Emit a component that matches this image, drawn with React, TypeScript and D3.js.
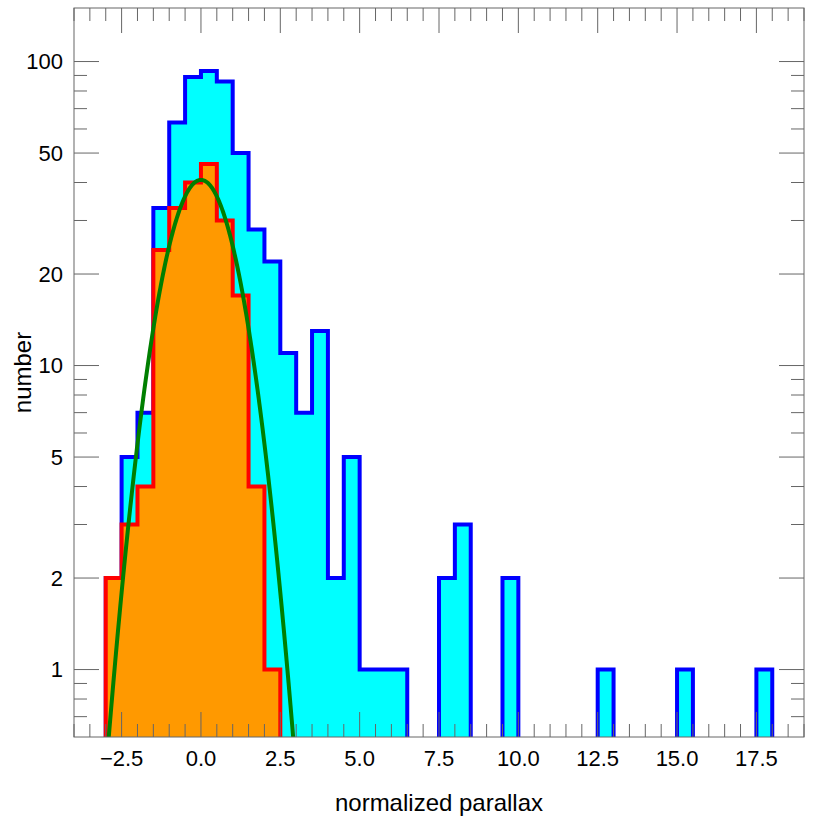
import React from "react";
import * as d3 from "d3";

// ---- data ----
const BIN_START = -3.0;
const BIN_WIDTH = 0.5;
// total sample (cyan / blue), bins from -3.0 in steps of 0.5
const blueCounts = [
  2, 5, 7, 33, 63, 89, 93, 86, 50, 28, 22, 11, 7, 13, 2, 5, 1, 1, 1, 0, 0, 2, 3, 0, 0, 2,
  0, 0, 0, 0, 0, 1, 0, 0, 0, 0, 1, 0, 0, 0, 0, 1,
];
// subset (orange / red), bins from -3.0 in steps of 0.5
const redCounts = [2, 3, 4, 24, 33, 40, 46, 30, 17, 4, 1];
// gaussian fit (green)
const fitAmplitude = 40.8;
const fitMean = 0.0;
const fitSigma = 1.0;

const xTickValues = [-2.5, 0, 2.5, 5, 7.5, 10, 12.5, 15, 17.5];
const xTickLabels = ["\u22122.5", "0.0", "2.5", "5.0", "7.5", "10.0", "12.5", "15.0", "17.5"];
const yTickValues = [1, 2, 5, 10, 20, 50, 100];
const yTickLabels = ["1", "2", "5", "10", "20", "50", "100"];
const yMinorValues = [0.7, 0.8, 0.9, 3, 4, 6, 7, 8, 9, 30, 40, 60, 70, 80, 90];

const xLabel = "normalized parallax";
const yLabel = "number";

// ---- layout ----
const W = 828;
const H = 828;
const L = 74;
const R = 804;
const T = 8;
const B = 737;
const FONT = "'Liberation Sans', Arial, Helvetica, sans-serif";

export default function App() {
  const x = d3.scaleLinear().domain([-4, 19]).range([L, R]);
  const y = d3.scaleLog().domain([0.6, 150]).range([B, T]);
  const yv = (v: number) => (v > 0 ? y(v) : B + 20);

  const stepPath = (counts: number[]) => {
    const pts: [number, number][] = [];
    const x0 = BIN_START;
    pts.push([x(x0), B + 20]);
    counts.forEach((c, i) => {
      const a = x0 + i * BIN_WIDTH;
      const b = a + BIN_WIDTH;
      pts.push([x(a), yv(c)]);
      pts.push([x(b), yv(c)]);
    });
    pts.push([x(x0 + counts.length * BIN_WIDTH), B + 20]);
    return d3.line()(pts) as string;
  };

  const gx = d3.range(-4, 19.001, 0.02);
  const fitLine = d3
    .line<number>()
    .x((v) => x(v))
    .y((v) => {
      const val = fitAmplitude * Math.exp(-((v - fitMean) ** 2) / (2 * fitSigma * fitSigma));
      return val > 1e-3 ? y(val) : B + 500;
    })(gx) as string;

  const xMinor = d3.range(-4, 19.001, 0.5).filter((v) => !xTickValues.some((t) => Math.abs(t - v) < 1e-6));
  const tickColor = "#666";
  const majorLen = 25;
  const minorLen = 13;

  return (
    <svg
      width={W}
      height={H}
      style={{ position: "absolute", left: 0, top: 0, background: "#fff" }}
      fontFamily={FONT}
    >
      <defs>
        <clipPath id="plotClip">
          <rect x={L} y={T} width={R - L} height={B - T} />
        </clipPath>
      </defs>
      <rect x={0} y={0} width={W} height={H} fill="#fff" />
      <g clipPath="url(#plotClip)">
        <path d={stepPath(blueCounts)} fill="#00ffff" stroke="#0000ff" strokeWidth={4} strokeLinejoin="miter" />
        <path d={stepPath(redCounts)} fill="#ff9900" stroke="#ff0000" strokeWidth={4} strokeLinejoin="miter" />
        <path d={fitLine} fill="none" stroke="#007f00" strokeWidth={4} />
      </g>
      {/* ticks */}
      <g stroke={tickColor} strokeWidth={1}>
        {xTickValues.map((v, i) => (
          <g key={"xM" + i}>
            <line x1={x(v)} x2={x(v)} y1={B} y2={B - majorLen} />
            <line x1={x(v)} x2={x(v)} y1={T} y2={T + majorLen} />
          </g>
        ))}
        {xMinor.map((v, i) => (
          <g key={"xm" + i}>
            <line x1={x(v)} x2={x(v)} y1={B} y2={B - minorLen} />
            <line x1={x(v)} x2={x(v)} y1={T} y2={T + minorLen} />
          </g>
        ))}
        {yTickValues.map((v, i) => (
          <g key={"yM" + i}>
            <line x1={L} x2={L + majorLen} y1={y(v)} y2={y(v)} />
            <line x1={R} x2={R - majorLen} y1={y(v)} y2={y(v)} />
          </g>
        ))}
        {yMinorValues.map((v, i) => (
          <g key={"ym" + i}>
            <line x1={L} x2={L + minorLen} y1={y(v)} y2={y(v)} />
            <line x1={R} x2={R - minorLen} y1={y(v)} y2={y(v)} />
          </g>
        ))}
      </g>
      <rect x={L} y={T} width={R - L} height={B - T} fill="none" stroke={tickColor} strokeWidth={1} />
      {/* tick labels */}
      <g fontSize={22} fill="#000">
        {xTickValues.map((v, i) => (
          <text key={"xl" + i} x={x(v)} y={766} textAnchor="middle">
            {xTickLabels[i]}
          </text>
        ))}
        {yTickValues.map((v, i) => (
          <text key={"yl" + i} x={63} y={y(v)} dy="0.36em" textAnchor="end">
            {yTickLabels[i]}
          </text>
        ))}
      </g>
      <text x={(L + R) / 2} y={811} fontSize={24} textAnchor="middle" fill="#000">
        {xLabel}
      </text>
      <text
        transform={`translate(31, ${(T + B) / 2}) rotate(-90)`}
        fontSize={24}
        textAnchor="middle"
        fill="#000"
      >
        {yLabel}
      </text>
    </svg>
  );
}
